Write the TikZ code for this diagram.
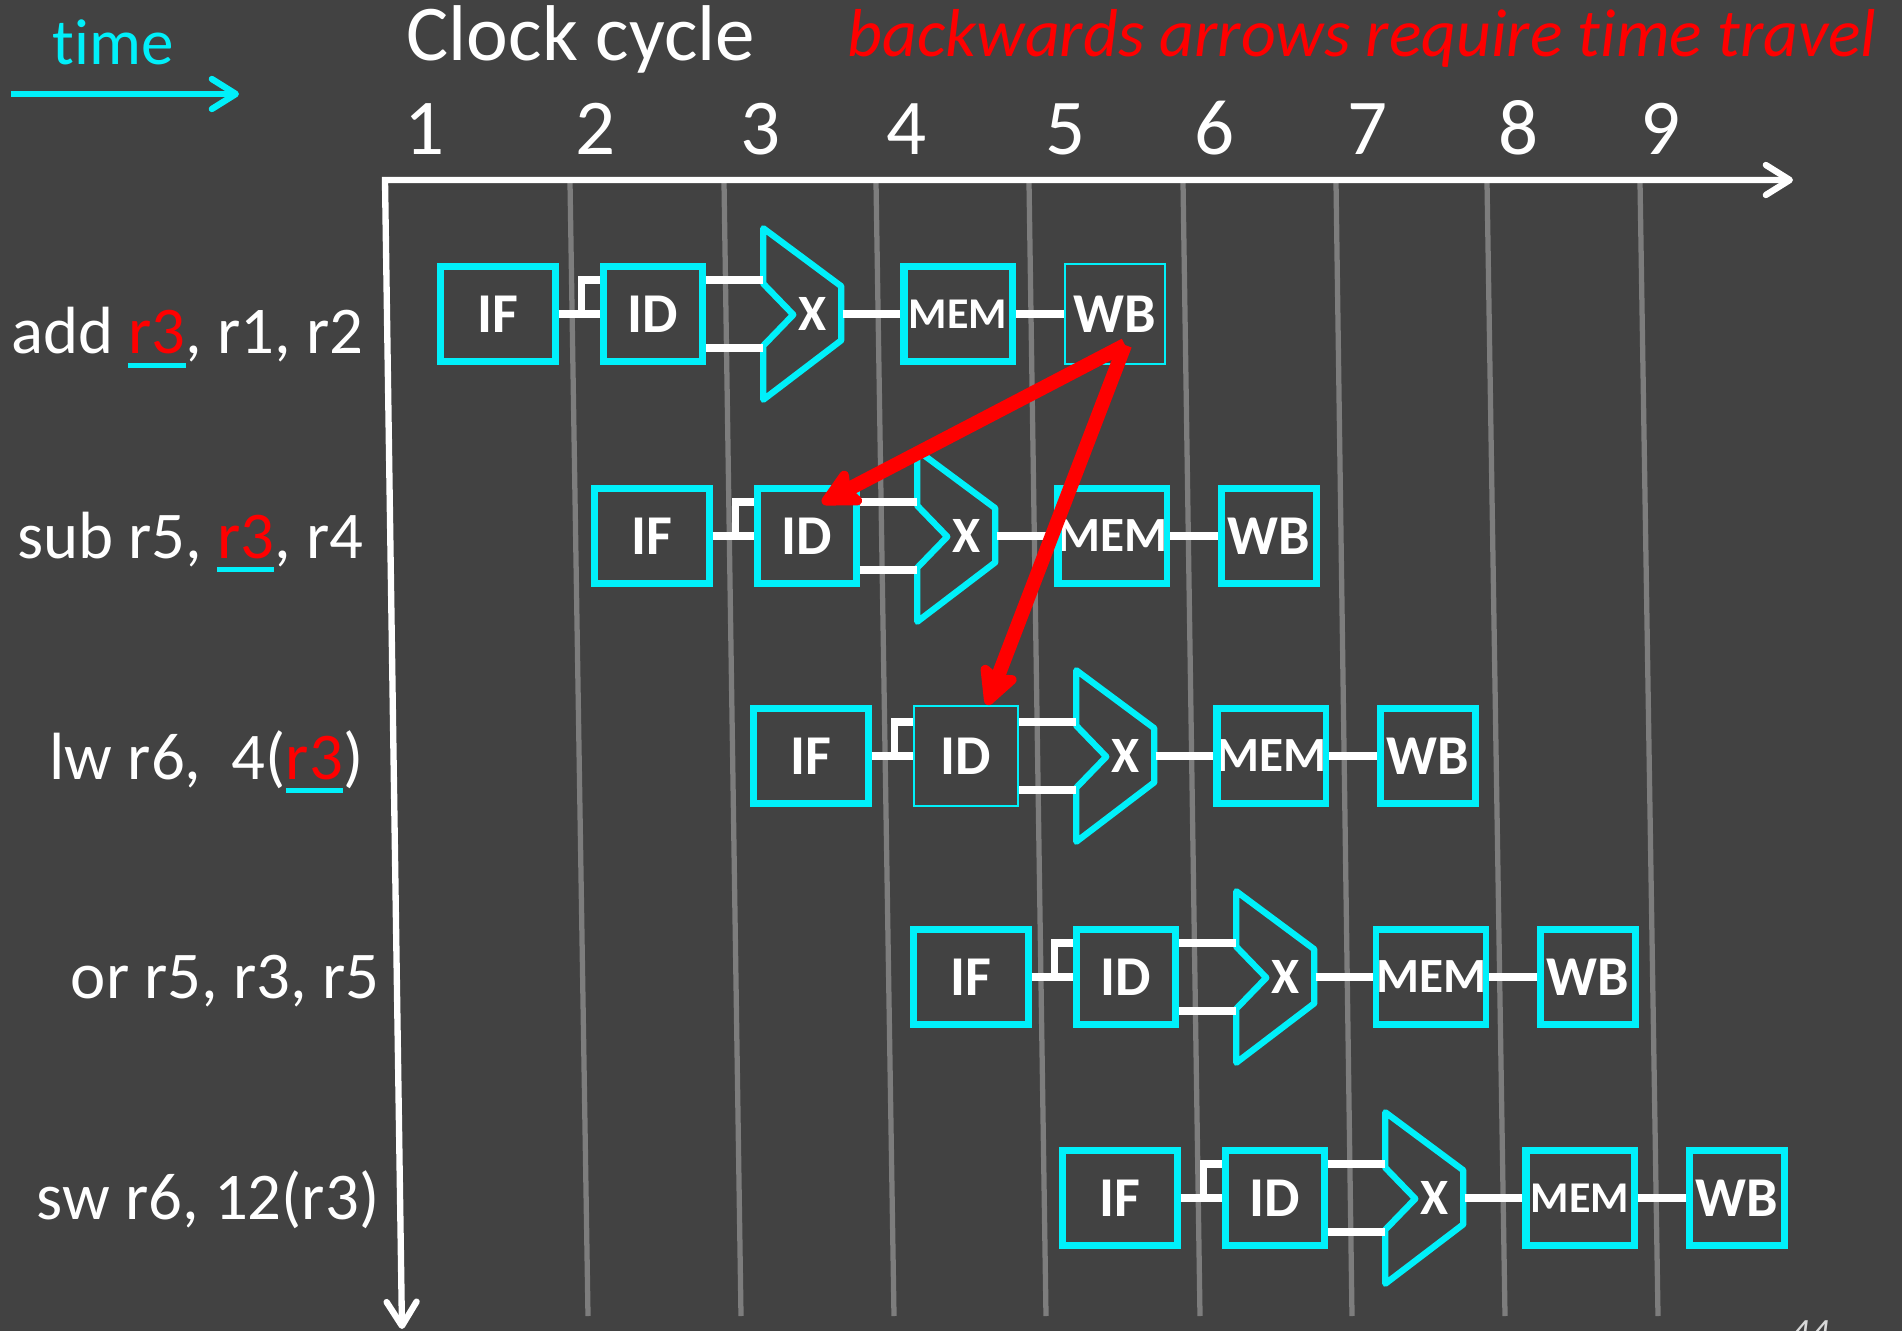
\documentclass[tikz,border=0pt]{standalone}
\usepackage{fontspec}
\setmainfont{Carlito}[Ligatures=NoCommon]
\usetikzlibrary{arrows.meta,calc}

\definecolor{slide}{RGB}{66,66,66}
\definecolor{pipe}{RGB}{0,240,250}
\definecolor{hazard}{RGB}{255,0,0}
\definecolor{cyclegray}{RGB}{125,125,125}

\newsavebox{\regbox}
\newcommand{\hazreg}[1]{\sbox{\regbox}{#1}\rlap{\color{pipe}\rule[-4.0pt]{\wd\regbox}{1.3pt}}\textcolor{hazard}{#1}}

\begin{document}
\begin{tikzpicture}[scale=1.0,
  stage/.style={draw=pipe, line width=1.8pt, minimum height=0.95cm, inner sep=0pt,
    text=white, font=\fontsize{16}{16}\selectfont\bfseries},
  fetch/.style={stage, minimum width=1.15cm},
  decode/.style={stage, minimum width=0.99cm},
  memory/.style={stage, minimum width=1.09cm, font=\fontsize{14}{14}\selectfont\bfseries},
  memsmall/.style={font=\fontsize{12.5}{12.5}\selectfont\bfseries},
  writeback/.style={stage, minimum width=0.95cm},
  thinbox/.style={line width=0.6pt, minimum height=1.00cm},
  alu/.style={minimum width=0.78cm, minimum height=1.70cm, inner sep=0pt,
    label={[xshift=0.1cm, text=white, font=\fontsize{14.5}{14.5}\selectfont\bfseries]center:X}},
  aluline/.style={draw=pipe, line width=1.8pt, line join=round},
  wire/.style={draw=white, line width=2pt},
  seam/.style={draw=pipe, line width=0.6pt},
  cycline/.style={draw=cyclegray, line width=1.5pt},
  axisline/.style={draw=white, line width=1.8pt},
  chevron/.tip={Straight Barb[length=0.24cm, width=0.30cm, round]},
  instr/.style={anchor=base east, inner sep=0pt, text=white, font=\fontsize{19}{19}\selectfont},
  cyc/.style={anchor=base, inner sep=0pt, text=white, font=\fontsize{22.5}{22.5}\selectfont},
  travel/.style={draw=hazard, line width=4pt, -{Stealth[length=0.46cm, width=0.46cm, inset=0.08cm, round]}},
  ]
  \useasboundingbox (0,0) rectangle (19.02,-13.31);
  \fill[slide] (0,0) rectangle (19.02,-13.31);

  % cycle boundaries
  \draw[cycline] (5.70,-1.82) -- (5.88,-13.16) (7.24,-1.82) -- (7.41,-13.16)
    (8.76,-1.82) -- (8.94,-13.16) (10.29,-1.82) -- (10.46,-13.16)
    (11.83,-1.82) -- (12.00,-13.16) (13.36,-1.82) -- (13.52,-13.16)
    (14.87,-1.82) -- (15.05,-13.16) (16.40,-1.82) -- (16.58,-13.16);

  % axes
  \coordinate (origin) at (3.85,-1.80);
  \coordinate (tend) at (17.93,-1.80);
  \coordinate (iend) at (4.02,-13.29);
  \draw[axisline, chevron-chevron] (tend) -- (origin) -- (iend);

  \node[anchor=base west, inner sep=0pt, text=pipe, font=\fontsize{18.5}{18.5}\selectfont] (time) at (0.52,-0.65) {time};
  \coordinate (t0) at (0.11,-0.94);
  \coordinate (t1) at (2.39,-0.94);
  \draw[draw=pipe, line width=1.8pt, -chevron] (t0) -- (t1);

  \node[anchor=base west, inner sep=0pt, text=white, font=\fontsize{22.5}{22.5}\selectfont] (clock) at (4.06,-0.61) {Clock cycle};
  \node[anchor=base west, inner sep=0pt, text=hazard, font=\fontsize{19.3}{19.3}\selectfont\itshape] (warn) at (8.47,-0.57) {backwards arrows require time travel};

  \node[cyc] (C1) at (4.25,-1.55) {1};
  \node[cyc] (C2) at (5.96,-1.55) {2};
  \node[cyc] (C3) at (7.61,-1.55) {3};
  \node[cyc] (C4) at (9.07,-1.55) {4};
  \node[cyc] (C5) at (10.66,-1.55) {5};
  \node[cyc] (C6) at (12.15,-1.55) {6};
  \node[cyc] (C7) at (13.68,-1.55) {7};
  \node[cyc] (C8) at (15.19,-1.55) {8};
  \node[cyc] (C9) at (16.61,-1.55) {9};

  % instructions
  \node[instr] (L1) at (3.64,-3.54) {add \hazreg{r3}, r1, r2};
  \node[instr] (L2) at (3.64,-5.58) {sub r5, \hazreg{r3}, r4};
  \node[instr] (L3) at (3.64,-7.79) {lw r6,\ \ 4(\hazreg{r3})};
  \node[instr] (L4) at (3.80,-9.98) {or r5, r3, r5};
  \node[instr] (L5) at (3.80,-12.19) {sw r6, 12(r3)};

  % row 1
  \node[fetch] (IF1) at (4.98,-3.14) {IF};
  \node[decode] (ID1) at (6.53,-3.14) {ID};
  \node[alu] (X1) at (8.03,-3.14) {};
  \node[memory, memsmall] (MEM1) at (9.58,-3.14) {MEM};
  \node[writeback, thinbox, minimum width=1.00cm] (WB1) at (11.15,-3.14) {WB};

  % row 2
  \node[fetch] (IF2) at (6.52,-5.36) {IF};
  \node[decode] (ID2) at (8.07,-5.36) {ID};
  \node[alu] (X2) at (9.57,-5.36) {};
  \node[memory] (MEM2) at (11.12,-5.36) {MEM};
  \node[writeback] (WB2) at (12.69,-5.36) {WB};

  % row 3
  \node[fetch] (IF3) at (8.11,-7.56) {IF};
  \node[decode, thinbox, minimum width=1.04cm] (ID3) at (9.66,-7.56) {ID};
  \node[alu] (X3) at (11.16,-7.56) {};
  \node[memory] (MEM3) at (12.71,-7.56) {MEM};
  \node[writeback] (WB3) at (14.28,-7.56) {WB};

  % row 4
  \node[fetch] (IF4) at (9.71,-9.77) {IF};
  \node[decode] (ID4) at (11.26,-9.77) {ID};
  \node[alu] (X4) at (12.76,-9.77) {};
  \node[memory] (MEM4) at (14.31,-9.77) {MEM};
  \node[writeback] (WB4) at (15.88,-9.77) {WB};

  % row 5
  \node[fetch] (IF5) at (11.20,-11.98) {IF};
  \node[decode] (ID5) at (12.75,-11.98) {ID};
  \node[alu] (X5) at (14.25,-11.98) {};
  \node[memory, memsmall] (MEM5) at (15.80,-11.98) {MEM};
  \node[writeback] (WB5) at (17.37,-11.98) {WB};

  \draw[aluline] (X1.north west) -- ++(0.78,-0.58) -- ++(0,-0.54) -- (X1.south west) -- ++(0,0.54) -- ++(0.30,0.31) -- ++(-0.30,0.31) -- cycle;
  \draw[aluline] (X2.north west) -- ++(0.78,-0.58) -- ++(0,-0.54) -- (X2.south west) -- ++(0,0.54) -- ++(0.30,0.31) -- ++(-0.30,0.31) -- cycle;
  \draw[aluline] (X3.north west) -- ++(0.78,-0.58) -- ++(0,-0.54) -- (X3.south west) -- ++(0,0.54) -- ++(0.30,0.31) -- ++(-0.30,0.31) -- cycle;
  \draw[aluline] (X4.north west) -- ++(0.78,-0.58) -- ++(0,-0.54) -- (X4.south west) -- ++(0,0.54) -- ++(0.30,0.31) -- ++(-0.30,0.31) -- cycle;
  \draw[aluline] (X5.north west) -- ++(0.78,-0.58) -- ++(0,-0.54) -- (X5.south west) -- ++(0,0.54) -- ++(0.30,0.31) -- ++(-0.30,0.31) -- cycle;

  % wires between stages
  \draw[wire] (IF1.east) -- (ID1.west) ($(IF1.east)!0.55!(ID1.west)$) |- ([yshift=0.34cm]ID1.west)
    ([yshift=0.34cm]ID1.east) -- ([yshift=0.34cm]X1.west) ([yshift=-0.34cm]ID1.east) -- ([yshift=-0.34cm]X1.west)
    (X1.east) -- (MEM1.west) (MEM1.east) -- (WB1.west);
  \draw[wire] (IF2.east) -- (ID2.west) ($(IF2.east)!0.55!(ID2.west)$) |- ([yshift=0.34cm]ID2.west)
    ([yshift=0.34cm]ID2.east) -- ([yshift=0.34cm]X2.west) ([yshift=-0.34cm]ID2.east) -- ([yshift=-0.34cm]X2.west)
    (X2.east) -- (MEM2.west) (MEM2.east) -- (WB2.west);
  \draw[wire] (IF3.east) -- (ID3.west) ($(IF3.east)!0.55!(ID3.west)$) |- ([yshift=0.34cm]ID3.west)
    ([yshift=0.34cm]ID3.east) -- ([yshift=0.34cm]X3.west) ([yshift=-0.34cm]ID3.east) -- ([yshift=-0.34cm]X3.west)
    (X3.east) -- (MEM3.west) (MEM3.east) -- (WB3.west);
  \draw[wire] (IF4.east) -- (ID4.west) ($(IF4.east)!0.55!(ID4.west)$) |- ([yshift=0.34cm]ID4.west)
    ([yshift=0.34cm]ID4.east) -- ([yshift=0.34cm]X4.west) ([yshift=-0.34cm]ID4.east) -- ([yshift=-0.34cm]X4.west)
    (X4.east) -- (MEM4.west) (MEM4.east) -- (WB4.west);
  \draw[wire] (IF5.east) -- (ID5.west) ($(IF5.east)!0.55!(ID5.west)$) |- ([yshift=0.34cm]ID5.west)
    ([yshift=0.34cm]ID5.east) -- ([yshift=0.34cm]X5.west) ([yshift=-0.34cm]ID5.east) -- ([yshift=-0.34cm]X5.west)
    (X5.east) -- (MEM5.west) (MEM5.east) -- (WB5.west);

  % doubled left edges
  \draw[seam] ([xshift=0.07cm]MEM1.north west) -- ([xshift=0.07cm]MEM1.south west);
  \draw[seam] ([xshift=0.07cm]MEM2.north west) -- ([xshift=0.07cm]MEM2.south west);
  \draw[seam] ([xshift=0.07cm]MEM3.north west) -- ([xshift=0.07cm]MEM3.south west);
  \draw[seam] ([xshift=0.07cm]MEM5.north west) -- ([xshift=0.07cm]MEM5.south west);
  \draw[seam] ([xshift=0.06cm]IF4.north west) -- ([xshift=0.06cm]IF4.south west);

  % hazards
  \draw[travel] ([shift={(0.10,-0.31)}]WB1.center) -- ([shift={(0.15,0.33)}]ID2.center);
  \draw[travel] ([shift={(0.10,-0.31)}]WB1.center) -- ([xshift=0.21cm]ID3.north);

  \node[anchor=base west, inner sep=0pt, text=white!80!slide, font=\fontsize{11}{11}\selectfont\itshape] (slideno) at (17.90,-13.45) {44};
\end{tikzpicture}
\end{document}
